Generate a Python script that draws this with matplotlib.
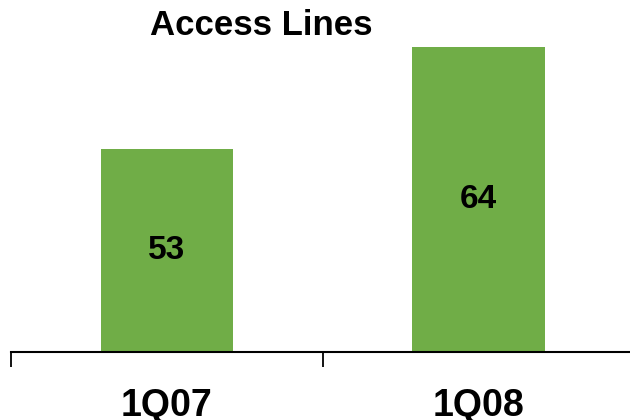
import matplotlib.pyplot as plt

quarters = ["1Q07", "1Q08"]
lines = [53, 64]

plt.rcParams['font.family'] = ['Liberation Sans', 'DejaVu Sans']

fig = plt.figure(figsize=(6.3, 4.2), dpi=100)
ax = fig.add_axes([0.0175, 0.162, 0.99, 0.838])

x = range(len(quarters))
ax.bar(x, lines, width=0.426, color='#70AD47')
for xi, v in zip(x, lines):
    ax.text(xi, (31.1 + v) / 2, str(v), ha='center', va='center',
            fontsize=24, fontweight='bold')

ax.set_xlim(-0.5, 1.5)
ax.set_ylim(31.1, 69.1)

# category labels without marks, boundary ticks as minor ticks
ax.set_xticks(list(x))
ax.set_xticklabels(quarters, fontsize=27, fontweight='bold')
ax.tick_params(axis='x', which='major', length=0, pad=26)
ax.set_xticks([-0.5, 0.5, 1.5], minor=True)
ax.tick_params(axis='x', which='minor', length=11, width=1.3, direction='out')
ax.set_yticks([])

for side in ['top', 'right', 'left']:
    ax.spines[side].set_visible(False)
ax.spines['bottom'].set_linewidth(1.5)

fig.text(0.414, 0.94, "Access Lines", ha='center', va='center',
         fontsize=25, fontweight='bold')

fig.savefig("out.png", dpi=100)
